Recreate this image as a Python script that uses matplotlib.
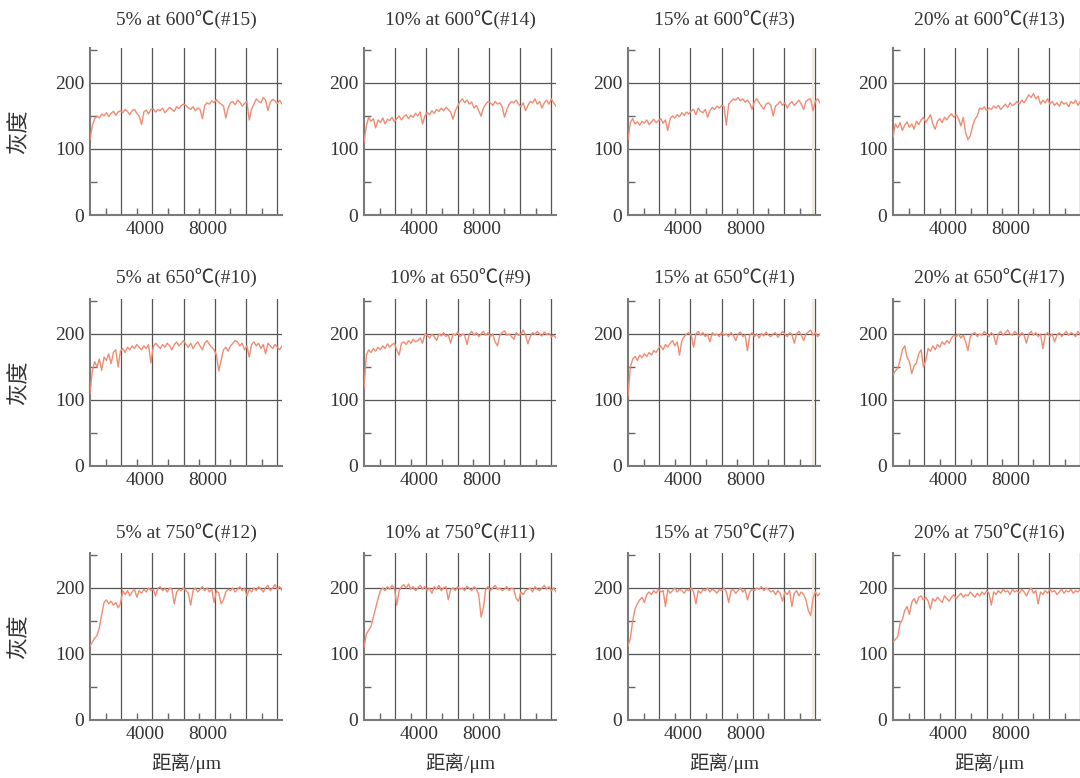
import matplotlib
matplotlib.use("Agg")
import matplotlib.pyplot as plt
from matplotlib.transforms import ScaledTranslation

plt.rcParams["font.family"] = ["Liberation Serif", "Noto Sans CJK SC"]

# sample positions along the profile (um)
DIST = [0, 150, 300, 450, 600, 750, 900, 1050, 1200, 1350, 1500, 1650, 1800, 1950,
        2100, 2250, 2400, 2550, 2700, 2850, 3000, 3150, 3300, 3450, 3600, 3750, 3900,
        4050, 4200, 4350, 4500, 4650, 4800, 4950, 5100, 5250, 5400, 5550, 5700, 5850, 6000,
        6150, 6300, 6450, 6600, 6750, 6900, 7050, 7200, 7350, 7500, 7650, 7800, 7950,
        8100, 8250, 8400, 8550, 8700, 8850, 9000, 9150, 9300, 9450, 9600, 9750, 9900,
        10050, 10200, 10350, 10500, 10650, 10800, 10950, 11100, 11250, 11400, 11550, 11700,
        11850, 12000, 12150, 12300]

TITLES = [["5% at 600℃(#15)", "10% at 600℃(#14)", "15% at 600℃(#3)", "20% at 600℃(#13)"],
          ["5% at 650℃(#10)", "10% at 650℃(#9)", "15% at 650℃(#1)", "20% at 650℃(#17)"],
          ["5% at 750℃(#12)", "10% at 750℃(#11)", "15% at 750℃(#7)", "20% at 750℃(#16)"]]

# grey values
g600_05 = [114, 136, 146, 150, 147, 153, 150, 155, 149, 154, 157, 151, 156, 158,
           155, 160, 157, 152, 158, 160, 154, 150, 137, 156, 159, 153, 160,
           161, 156, 160, 158, 162, 155, 159, 163, 160, 157, 164, 161, 166, 168,
           166, 162, 160, 164, 158, 162, 160, 146, 166, 170, 168, 173, 170,
           175, 171, 168, 165, 147, 162, 170, 172, 167, 174, 171, 165, 169,
           172, 144, 160, 168, 176, 172, 170, 178, 174, 158, 171, 175, 173, 169, 174, 168]
g600_10 = [110, 135, 148, 142, 146, 132, 144, 140, 147, 138, 145, 143, 148, 141,
           146, 150, 144, 149, 152, 146, 151, 148, 154, 150, 156, 138, 150,
           155, 152, 158, 154, 160, 157, 162, 158, 163, 160, 156, 145, 158, 165,
           172, 176, 170, 174, 168, 171, 162, 166, 158, 150, 162, 168, 172,
           170, 166, 172, 168, 170, 164, 148, 160, 168, 172, 170, 174, 168,
           164, 170, 158, 166, 172, 170, 176, 168, 172, 162, 170, 174, 168, 176, 170, 165]
g600_15 = [114, 140, 146, 138, 141, 136, 142, 139, 144, 137, 141, 145, 140, 143,
           146, 139, 144, 128, 146, 150, 147, 152, 149, 155, 151, 156, 153,
           158, 160, 152, 162, 157, 155, 160, 148, 158, 163, 160, 165, 162, 166,
           164, 136, 168, 172, 176, 174, 178, 173, 176, 171, 174, 169, 160,
           172, 176, 170, 165, 160, 168, 170, 166, 150, 165, 168, 172, 166,
           170, 162, 168, 172, 166, 170, 174, 168, 160, 172, 175, 176, 158, 172, 176, 170]
g600_20 = [118, 138, 132, 140, 128, 136, 141, 133, 138, 130, 142, 137, 144, 148,
           140, 146, 152, 138, 130, 142, 146, 140, 148, 144, 150, 153, 148,
           152, 146, 135, 148, 125, 114, 120, 135, 145, 150, 162, 160, 164, 158,
           162, 160, 165, 162, 166, 160, 164, 168, 163, 170, 166, 168, 172,
           168, 174, 170, 176, 182, 178, 184, 176, 180, 168, 174, 170, 176,
           168, 172, 166, 170, 165, 172, 168, 170, 164, 172, 169, 174, 166, 172, 168, 170]

g650_05 = [110, 145, 158, 150, 162, 145, 165, 160, 170, 155, 172, 176, 150, 174,
           178, 172, 180, 176, 182, 178, 184, 180, 176, 182, 178, 184, 156,
           180, 186, 182, 178, 184, 180, 186, 182, 176, 184, 188, 182, 186, 190,
           184, 180, 186, 178, 184, 188, 182, 176, 186, 190, 184, 180, 176,
           168, 144, 160, 176, 180, 174, 182, 186, 190, 188, 182, 186, 176,
           182, 165, 184, 188, 182, 186, 178, 184, 170, 186, 182, 178, 184, 180, 176, 182]
g650_10 = [118, 168, 176, 172, 178, 174, 180, 176, 182, 178, 185, 180, 184, 186,
           176, 168, 186, 188, 184, 190, 186, 192, 188, 190, 194, 186, 200,
           198, 194, 200, 196, 190, 200, 197, 202, 196, 199, 186, 200, 198, 203,
           196, 200, 198, 184, 200, 204, 198, 202, 196, 200, 204, 198, 202,
           196, 200, 188, 182, 198, 202, 205, 198, 200, 196, 192, 202, 198,
           200, 206, 198, 185, 196, 202, 199, 204, 200, 197, 203, 199, 201, 196, 198, 194]
g650_15 = [106, 150, 162, 166, 160, 168, 164, 170, 166, 172, 168, 175, 172, 178,
           182, 176, 184, 180, 186, 190, 182, 188, 168, 190, 196, 200, 202,
           198, 180, 200, 204, 198, 202, 196, 200, 188, 202, 198, 200, 196, 203,
           198, 200, 196, 202, 198, 190, 200, 203, 196, 199, 175, 198, 202,
           196, 200, 194, 201, 197, 203, 198, 196, 200, 202, 195, 199, 204,
           200, 196, 202, 199, 186, 200, 204, 198, 190, 200, 203, 206, 198, 202, 196, 200]
g650_20 = [138, 144, 148, 160, 176, 182, 165, 158, 140, 152, 156, 170, 176, 150,
           160, 178, 174, 182, 176, 184, 180, 188, 184, 190, 186, 194, 198,
           196, 200, 194, 198, 188, 175, 196, 200, 202, 196, 200, 198, 204, 200,
           196, 202, 198, 184, 200, 204, 198, 202, 206, 200, 198, 204, 200,
           196, 202, 198, 186, 200, 204, 198, 202, 196, 200, 178, 198, 202,
           196, 200, 188, 198, 202, 196, 200, 204, 198, 202, 200, 196, 204, 199, 202, 200]

g750_05 = [112, 118, 124, 128, 140, 160, 178, 182, 176, 180, 174, 178, 170, 176,
           196, 190, 196, 188, 194, 198, 186, 196, 192, 198, 194, 200, 196,
           198, 188, 200, 202, 196, 199, 194, 200, 198, 176, 194, 198, 196, 200,
           196, 192, 174, 196, 200, 194, 198, 202, 196, 200, 194, 198, 178,
           196, 192, 176, 182, 194, 198, 196, 200, 194, 198, 202, 196, 200,
           188, 198, 194, 200, 196, 202, 198, 194, 200, 204, 196, 200, 205, 198, 202, 196]
g750_10 = [110, 130, 136, 142, 156, 170, 184, 196, 200, 196, 202, 198, 204, 200,
           174, 196, 202, 205, 200, 206, 198, 202, 196, 200, 204, 198, 202,
           196, 200, 192, 202, 198, 204, 196, 200, 202, 182, 198, 200, 196, 202,
           198, 200, 196, 203, 199, 196, 202, 198, 190, 156, 170, 198, 202,
           196, 200, 204, 198, 200, 196, 198, 202, 196, 200, 198, 184, 180,
           194, 190, 196, 198, 200, 194, 202, 198, 196, 200, 204, 198, 202, 196, 200, 194]
g750_15 = [112, 124, 150, 168, 176, 182, 186, 178, 190, 194, 190, 196, 192, 198,
           194, 196, 172, 198, 192, 196, 200, 194, 198, 196, 192, 198, 196,
           200, 194, 176, 196, 192, 198, 196, 200, 194, 198, 196, 192, 198, 196,
           200, 194, 178, 196, 198, 192, 196, 200, 194, 198, 182, 194, 198,
           196, 200, 198, 202, 196, 200, 198, 194, 196, 190, 196, 192, 180,
           194, 190, 196, 172, 192, 196, 188, 194, 190, 182, 166, 158, 184, 194, 188, 192]
g750_20 = [118, 122, 126, 146, 152, 166, 172, 160, 178, 184, 176, 186, 188, 182,
           186, 180, 168, 184, 180, 186, 182, 178, 188, 184, 180, 186, 190,
           184, 188, 192, 186, 190, 188, 194, 190, 186, 192, 188, 194, 190, 196,
           192, 174, 194, 190, 196, 192, 198, 194, 196, 190, 198, 194, 196,
           192, 198, 194, 188, 196, 200, 192, 196, 176, 194, 190, 196, 192,
           198, 194, 196, 190, 194, 198, 192, 196, 194, 198, 192, 196, 194, 198, 196, 194]

PROFILES = [[g600_05, g600_10, g600_15, g600_20],
            [g650_05, g650_10, g650_15, g650_20],
            [g750_05, g750_10, g750_15, g750_20]]

W, H = 1080, 778
fig = plt.figure(figsize=(W / 100, H / 100), dpi=100)

COL_PX = [90, 364, 628, 893]
ROW_PX = [48, 299, 553]
TITLE_PAD = [16, 11, 10]
AW, AH = 192, 167
LINE = "#ef8c74"

for r in range(3):
    for c in range(4):
        ax = fig.add_axes([COL_PX[c] / W, 1 - (ROW_PX[r] + AH) / H, AW / W, AH / H])
        ax.plot(DIST, PROFILES[r][c], color=LINE, lw=1.0, zorder=3)
        if c == 2:  # pale seam visible in the 15 % column
            ax.axvline(11850, color="#f1ecd8", lw=1.5, zorder=2)
        ax.set_xlim(0, 12300)
        ax.set_ylim(0, 253)
        ax.set_xticks([2000, 4000, 6000, 8000, 10000, 12000])
        ax.set_xticklabels(["", "4000", "", "8000", "", ""])
        ax.set_xticks([1000, 3000, 5000, 7000, 9000, 11000], minor=True)
        ax.set_yticks([0, 100, 200])
        ax.set_yticks([50, 150, 250], minor=True)
        ax.grid(True, which="major", color="#555555", lw=0.9)
        ax.set_axisbelow(True)
        ax.tick_params(which="both", direction="in", colors="#666666",
                       labelcolor="#333333", labelsize=14)
        ax.tick_params(which="major", length=0, pad=4)
        ax.tick_params(which="minor", length=5, width=1)
        for s in ("top", "right"):
            ax.spines[s].set_visible(False)
        for s in ("left", "bottom"):
            ax.spines[s].set_color("#7a7a7a")
            ax.spines[s].set_linewidth(1.5)
        off = ScaledTranslation(-7 / 100, 0, fig.dpi_scale_trans)
        for lab in ax.get_xticklabels():
            lab.set_transform(lab.get_transform() + off)
        ax.set_title(TITLES[r][c], fontsize=14, color="#333333", pad=TITLE_PAD[r])
        if c == 0:
            ax.set_ylabel("灰度", fontsize=16, color="#333333")
            ax.yaxis.set_label_coords(-0.31, 0.5)
        if r == 2:
            ax.set_xlabel("距离/μm", fontsize=14, color="#333333")
            ax.xaxis.set_label_coords(0.5, -0.2)

fig.savefig("out.png", dpi=100)
